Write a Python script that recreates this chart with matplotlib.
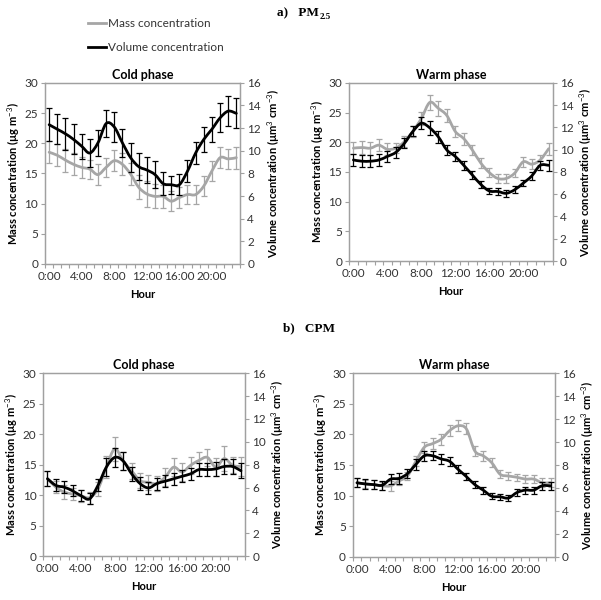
"""
Diurnal cycles of mass and volume concentration, PM2.5 and CPM.
"""

import numpy as np
import matplotlib
matplotlib.use('Agg')
import matplotlib.pyplot as plt
from matplotlib.path import Path
from matplotlib.patches import PathPatch

plt.rcParams['font.family'] = ['Lato', 'DejaVu Sans']
plt.rcParams['mathtext.fontset'] = 'custom'
plt.rcParams['mathtext.rm'] = 'Lato'
plt.rcParams['mathtext.bf'] = 'Lato:bold'

hours = np.arange(24)
hour_labels = ['0:00', '4:00', '8:00', '12:00', '16:00', '20:00']

# PM2.5, cold phase
pm_cold_mass = [18.5, 18.0, 17.2, 16.5, 16.0, 15.7, 14.8, 16.0, 17.1, 16.5, 14.9, 12.7,
                11.6, 11.2, 11.2, 10.4, 11.0, 11.5, 11.5, 12.9, 15.4, 17.6, 17.4, 17.6]
pm_cold_mass_err = [1.8, 1.8, 1.9, 1.8, 1.7, 1.6, 1.7, 1.6, 1.7, 1.8, 1.9, 2.0,
                    2.1, 2.0, 1.9, 1.7, 1.7, 1.6, 1.5, 1.6, 1.6, 1.7, 1.6, 1.8]
pm_cold_vol = [12.3, 11.9, 11.5, 11.0, 10.4, 9.8, 10.7, 12.4, 12.1, 10.7, 9.4, 8.6,
               8.3, 7.9, 7.1, 7.0, 7.0, 8.2, 9.8, 11.0, 11.9, 12.9, 13.5, 13.3]
pm_cold_vol_err = [1.44, 1.33, 1.39, 1.33, 1.1, 1.2, 1.12, 1.17, 1.33, 1.23, 1.28, 1.17,
                   1.17, 1.23, 1.01, 0.8, 0.93, 0.96, 1.01, 1.07, 1.12, 1.28, 1.33, 1.33]

# PM2.5, warm phase
pm_warm_mass = [19.0, 19.1, 19.0, 19.5, 18.8, 19.0, 20.1, 21.8, 24.0, 26.7, 25.7, 24.5,
                21.8, 20.6, 18.7, 16.5, 14.9, 13.9, 13.9, 14.8, 16.7, 16.3, 17.0, 18.9]
pm_warm_mass_err = [1.0, 1.1, 1.1, 1.0, 1.0, 0.9, 0.9, 0.9, 1.1, 1.3, 1.3, 1.1,
                    1.0, 1.0, 0.9, 0.8, 0.8, 0.7, 0.7, 0.7, 0.8, 0.8, 0.9, 1.0]
pm_warm_vol = [9.07, 8.96, 8.96, 9.07, 9.39, 9.76, 10.56, 11.63, 12.37, 11.95, 11.15, 9.97,
               9.39, 8.59, 7.73, 6.88, 6.29, 6.24, 6.08, 6.4, 6.99, 7.63, 8.59, 8.59]
pm_warm_vol_err = [0.55, 0.55, 0.55, 0.5, 0.5, 0.5, 0.45, 0.45, 0.55, 0.6, 0.55, 0.45,
                   0.4, 0.4, 0.35, 0.3, 0.3, 0.3, 0.3, 0.3, 0.3, 0.35, 0.4, 0.5]

# CPM, cold phase
cpm_cold_mass = [12.7, 11.3, 10.5, 10.2, 9.9, 9.6, 11.0, 14.6, 17.6, 15.6, 14.0, 12.4,
                 12.1, 11.9, 13.0, 14.6, 13.8, 14.9, 15.7, 16.2, 14.6, 16.0, 14.9, 14.7]
cpm_cold_mass_err = [1.2, 1.0, 1.2, 1.0, 1.0, 1.0, 1.2, 1.8, 2.0, 1.5, 1.3, 1.2,
                     1.2, 1.2, 1.5, 1.5, 1.4, 1.4, 1.4, 1.4, 1.5, 2.0, 1.3, 1.5]
cpm_cold_vol = [6.77, 6.19, 6.03, 5.71, 5.28, 5.01, 6.19, 7.79, 8.64, 8.32, 7.2, 6.35,
                5.97, 6.35, 6.56, 6.77, 6.99, 7.2, 7.57, 7.57, 7.63, 7.84, 7.84, 7.47]
cpm_cold_vol_err = [0.64, 0.53, 0.53, 0.48, 0.48, 0.48, 0.53, 0.8, 0.85, 0.75, 0.64, 0.59,
                    0.53, 0.53, 0.53, 0.53, 0.53, 0.53, 0.59, 0.59, 0.59, 0.69, 0.64, 0.64]

# CPM, warm phase
cpm_warm_mass = [12.1, 11.9, 11.8, 11.6, 11.6, 12.4, 13.2, 15.6, 17.9, 18.5, 19.2, 20.6,
                 21.4, 20.9, 17.3, 16.5, 15.4, 13.5, 13.2, 13.0, 12.7, 12.7, 12.1, 12.1]
cpm_warm_mass_err = [0.7, 0.7, 0.7, 0.7, 0.8, 0.7, 0.7, 0.8, 0.9, 0.9, 0.9, 0.9,
                     0.9, 0.9, 0.8, 0.8, 0.8, 0.7, 0.7, 0.6, 0.7, 0.7, 0.7, 0.7]
cpm_warm_vol = [6.45, 6.35, 6.29, 6.24, 6.77, 6.83, 7.25, 8.05, 8.8, 8.8, 8.53, 8.32,
                7.63, 6.99, 6.29, 5.81, 5.28, 5.23, 5.12, 5.6, 5.81, 5.81, 6.19, 6.19]
cpm_warm_vol_err = [0.4, 0.4, 0.4, 0.4, 0.45, 0.45, 0.4, 0.45, 0.45, 0.4, 0.4, 0.4,
                    0.35, 0.3, 0.3, 0.3, 0.25, 0.25, 0.25, 0.3, 0.3, 0.3, 0.35, 0.35]

GREY = '#a6a6a6'
SPINE = '#a0a0a0'
TXT = '#333333'


def smooth_line(ax, x, y, color, lw):
    # Excel-style smoothed line: cubic Bezier segments through every point
    p = np.column_stack([x, y]).astype(float)
    ext = np.vstack([p[0], p, p[-1]])
    verts = [p[0]]
    codes = [Path.MOVETO]
    for i in range(len(p) - 1):
        c1 = ext[i + 1] + (ext[i + 2] - ext[i]) / 6.0
        c2 = ext[i + 2] - (ext[i + 3] - ext[i + 1]) / 6.0
        verts += [c1, c2, p[i + 1]]
        codes += [Path.CURVE4] * 3
    patch = PathPatch(Path(verts, codes), fill=False, edgecolor=color,
                      lw=lw, capstyle='round', joinstyle='round', zorder=3)
    ax.add_patch(patch)
    return patch


def panel(ax, title, mass, mass_err, vol, vol_err):
    ax2 = ax.twinx()
    ax.errorbar(hours, mass, yerr=mass_err, fmt='none', ecolor=GREY,
                elinewidth=0.9, capsize=2.2, capthick=0.9, zorder=2)
    smooth_line(ax, hours, mass, GREY, 2.0)
    ax2.errorbar(hours, vol, yerr=vol_err, fmt='none', ecolor='black',
                 elinewidth=0.9, capsize=2.2, capthick=0.9, zorder=2)
    smooth_line(ax2, hours, vol, 'black', 2.0)

    ax.set_xlim(-0.5, 23.5)
    ax.set_ylim(0, 30)
    ax2.set_ylim(0, 16)
    ax.set_yticks(np.arange(0, 31, 5))
    ax2.set_yticks(np.arange(0, 17, 2))
    ax.set_xticks(np.arange(0, 24, 4))
    ax.set_xticklabels(hour_labels)
    ax.set_xticks(np.arange(-0.5, 24, 1), minor=True)
    ax.tick_params(axis='x', which='major', length=0, pad=5)
    ax.tick_params(axis='x', which='minor', length=3, color=SPINE, width=0.8)
    ax.tick_params(axis='y', length=3, color=SPINE, width=0.8, pad=2)
    ax2.tick_params(axis='y', length=3, color=SPINE, width=0.8, pad=2)
    for a in (ax, ax2):
        a.tick_params(labelsize=8.5, labelcolor=TXT)
        for s in a.spines.values():
            s.set_color(SPINE)
            s.set_linewidth(0.9)

    ax.set_title(title, fontsize=9, fontweight='bold', pad=3)
    ax.set_xlabel('Hour', fontsize=8, fontweight='bold', labelpad=5)
    ax.set_ylabel(r'Mass concentration (µg m$^{-3}$)', fontsize=8,
                  fontweight='bold', labelpad=2)
    ax2.set_ylabel(r'Volume concentration (µm$^{3}$ cm$^{-3}$)', fontsize=8,
                   fontweight='bold', labelpad=3)
    return ax2


def main():
    fig = plt.figure(figsize=(6.01, 6.0), dpi=100)

    ax_a1 = fig.add_axes([0.075, 0.560, 0.325, 0.302])
    ax_a2 = fig.add_axes([0.581, 0.565, 0.339, 0.297])
    ax_b1 = fig.add_axes([0.072, 0.073, 0.336, 0.305])
    ax_b2 = fig.add_axes([0.587, 0.072, 0.336, 0.306])

    panel(ax_a1, 'Cold phase', pm_cold_mass, pm_cold_mass_err, pm_cold_vol, pm_cold_vol_err)
    panel(ax_a2, 'Warm phase', pm_warm_mass, pm_warm_mass_err, pm_warm_vol, pm_warm_vol_err)
    panel(ax_b1, 'Cold phase', cpm_cold_mass, cpm_cold_mass_err, cpm_cold_vol, cpm_cold_vol_err)
    panel(ax_b2, 'Warm phase', cpm_warm_mass, cpm_warm_mass_err, cpm_warm_vol, cpm_warm_vol_err)

    # legend
    h1, = ax_a1.plot([], [], color=GREY, lw=2)
    h2, = ax_a1.plot([], [], color='black', lw=2)
    fig.legend([h1, h2], ['Mass concentration', 'Volume concentration'],
               loc='upper left', bbox_to_anchor=(0.128, 0.988), frameon=False,
               fontsize=8.5, handlelength=1.6, handletextpad=0.15,
               labelspacing=1.15, labelcolor=TXT)

    # section headers
    serif = ['Liberation Serif', 'DejaVu Serif']
    t = fig.text(0.461, 0.978, 'a)   PM', family=serif, fontweight='bold',
                 fontsize=9.5, va='center')
    ax_a1.annotate('2.5', xy=(1.0, 0.0), xycoords=t, xytext=(0.5, -1.5),
                   textcoords='offset points', family=serif, fontweight='bold',
                   fontsize=6.5, ha='left', va='bottom', annotation_clip=False)
    fig.text(0.471, 0.453, 'b)   CPM', family=serif, fontweight='bold',
             fontsize=9.5, va='center')

    fig.savefig('out.png', dpi=100)


if __name__ == '__main__':
    main()
